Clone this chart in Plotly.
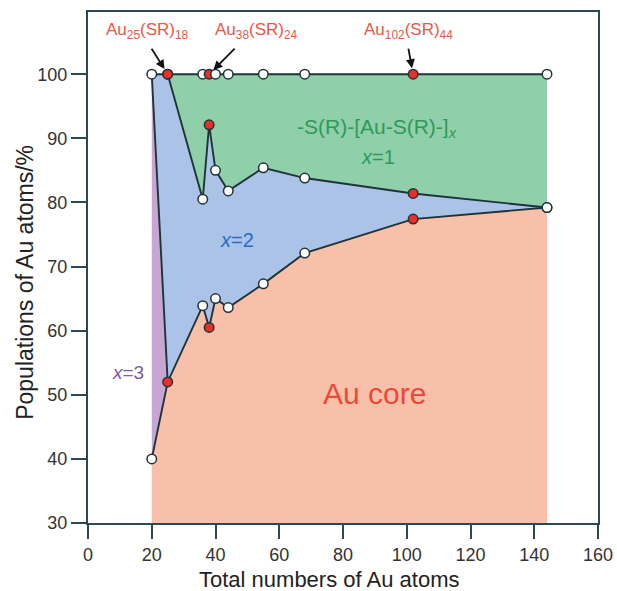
import plotly.graph_objects as go

# Cluster sizes (total Au atoms) and cumulative populations of Au atoms (%)
n_atoms = [20, 25, 36, 38, 40, 44, 55, 68, 102, 144]
core_pct = [40.0, 52.0, 63.9, 60.5, 65.0, 63.6, 67.3, 72.1, 77.4, 79.2]          # Au core
core_x3_pct = [100.0, 52.0, 63.9, 60.5, 65.0, 63.6, 67.3, 72.1, 77.4, 79.2]      # + x=3 staples
core_x3_x2_pct = [100.0, 100.0, 80.5, 92.1, 85.0, 81.8, 85.4, 83.8, 81.4, 79.2]  # + x=2 staples
total_pct = [100.0] * len(n_atoms)                                                # + x=1 staples

highlighted = [25, 38, 102]
highlight_labels = {25: "Au<sub>25</sub>(SR)<sub>18</sub>",
                    38: "Au<sub>38</sub>(SR)<sub>24</sub>",
                    102: "Au<sub>102</sub>(SR)<sub>44</sub>"}

x_ticks = [0, 20, 40, 60, 80, 100, 120, 140, 160]
y_ticks = [30, 40, 50, 60, 70, 80, 90, 100]

FONT = "Liberation Sans, Arial, sans-serif"
AXIS_COLOR = "#2c4852"
LINE_COLOR = "#1f3338"
C_CORE = "#f8c0a8"
C_X3 = "#c8a6d4"
C_X2 = "#aac3e6"
C_X1 = "#8fd0ab"

fig = go.Figure()

# stacked filled regions
fig.add_trace(go.Scatter(x=n_atoms, y=core_pct, mode="lines", line=dict(width=0),
                         fill="tozeroy", fillcolor=C_CORE, hoverinfo="skip"))
fig.add_trace(go.Scatter(x=n_atoms, y=core_x3_pct, mode="lines", line=dict(width=0),
                         fill="tonexty", fillcolor=C_X3, hoverinfo="skip"))
fig.add_trace(go.Scatter(x=n_atoms, y=core_x3_x2_pct, mode="lines", line=dict(width=0),
                         fill="tonexty", fillcolor=C_X2, hoverinfo="skip"))
fig.add_trace(go.Scatter(x=n_atoms, y=total_pct, mode="lines", line=dict(width=0),
                         fill="tonexty", fillcolor=C_X1, hoverinfo="skip"))

def marker_colors(xs):
    return ["#e8302a" if v in highlighted else "white" for v in xs]

def boundary(xs, ys, with_markers=True):
    fig.add_trace(go.Scatter(
        x=xs, y=ys, mode="lines+markers" if with_markers else "lines",
        line=dict(color=LINE_COLOR, width=1.9),
        marker=dict(size=9.5, color=marker_colors(xs), line=dict(color=LINE_COLOR, width=1.5)),
        hoverinfo="skip"))

# x=3 / x=2 boundary (no markers of its own)
boundary(n_atoms[:2], core_x3_pct[:2], with_markers=False)
# x=2 / x=1 boundary
boundary(n_atoms[1:], core_x3_x2_pct[1:])
# core boundary
boundary(n_atoms, core_pct)
# total
boundary(n_atoms, total_pct)

annotations = []
arrow_offsets = {25: (-17, -27), 38: (27, -27), 102: (-5, -27)}
label_x = {25: 18.6, 38: 53.0, 102: 100.6}
for n in highlighted:
    ax, ay = arrow_offsets[n]
    annotations.append(dict(x=n, y=100, xref="x", yref="y", text="", showarrow=True,
                            ax=ax, ay=ay, arrowhead=2, arrowsize=1.0, arrowwidth=1.8,
                            arrowcolor="#111111", standoff=6))
    annotations.append(dict(x=label_x[n], y=106.8, xref="x", yref="y", text=highlight_labels[n],
                            showarrow=False, font=dict(family=FONT, size=17, color="#ee5548")))

annotations += [
    dict(x=90.6, y=91.6, text="-S(R)-[Au-S(R)-]<sub><i>x</i></sub>", showarrow=False,
         font=dict(family=FONT, size=21, color="#2e9a5a")),
    dict(x=91.0, y=87.1, text="<i>x</i>=1", showarrow=False,
         font=dict(family=FONT, size=20, color="#2e9a5a")),
    dict(x=46.9, y=74.2, text="<i>x</i>=2", showarrow=False,
         font=dict(family=FONT, size=20, color="#2c6cc6")),
    dict(x=12.5, y=53.4, text="<i>x</i>=3", showarrow=False,
         font=dict(family=FONT, size=19, color="#7a5aa8")),
    dict(x=90.0, y=50.2, text="Au core", showarrow=False,
         font=dict(family=FONT, size=30, color="#ea4a3a")),
]
for a in annotations:
    a.setdefault("xref", "x")
    a.setdefault("yref", "y")

# axis titles
annotations += [
    dict(text="Total numbers of Au atoms", xref="paper", yref="paper", x=0.473, y=0,
         yshift=-56, showarrow=False, xanchor="center", yanchor="middle",
         font=dict(family=FONT, size=22, color="#222222")),
    dict(text="Populations of Au atoms/%", xref="paper", yref="paper", x=0, y=0.47,
         xshift=-63, showarrow=False, xanchor="center", yanchor="middle", textangle=-90,
         font=dict(family=FONT, size=23, color="#222222")),
]

fig.update_layout(
    template="none",
    width=617, height=591,
    margin=dict(l=88, r=19, t=12, b=68),
    paper_bgcolor="white", plot_bgcolor="white",
    showlegend=False,
    font=dict(family=FONT, size=17, color="#333333"),
    annotations=annotations,
    xaxis=dict(range=[0, 160], tickvals=x_ticks, ticks="outside", ticklen=14, tickwidth=2,
               tickcolor=AXIS_COLOR, showline=True, linecolor=AXIS_COLOR, linewidth=2,
               mirror=True, showgrid=False, zeroline=False, automargin=False,
               tickfont=dict(family=FONT, size=18, color="#333333")),
    yaxis=dict(range=[30, 109.7], tickvals=y_ticks, ticks="outside", ticklen=15, tickwidth=2,
               tickcolor=AXIS_COLOR, showline=True, linecolor=AXIS_COLOR, linewidth=2,
               mirror=True, showgrid=False, zeroline=False, automargin=False,
               tickfont=dict(family=FONT, size=18, color="#333333")),
)

fig.write_html("out.html")
